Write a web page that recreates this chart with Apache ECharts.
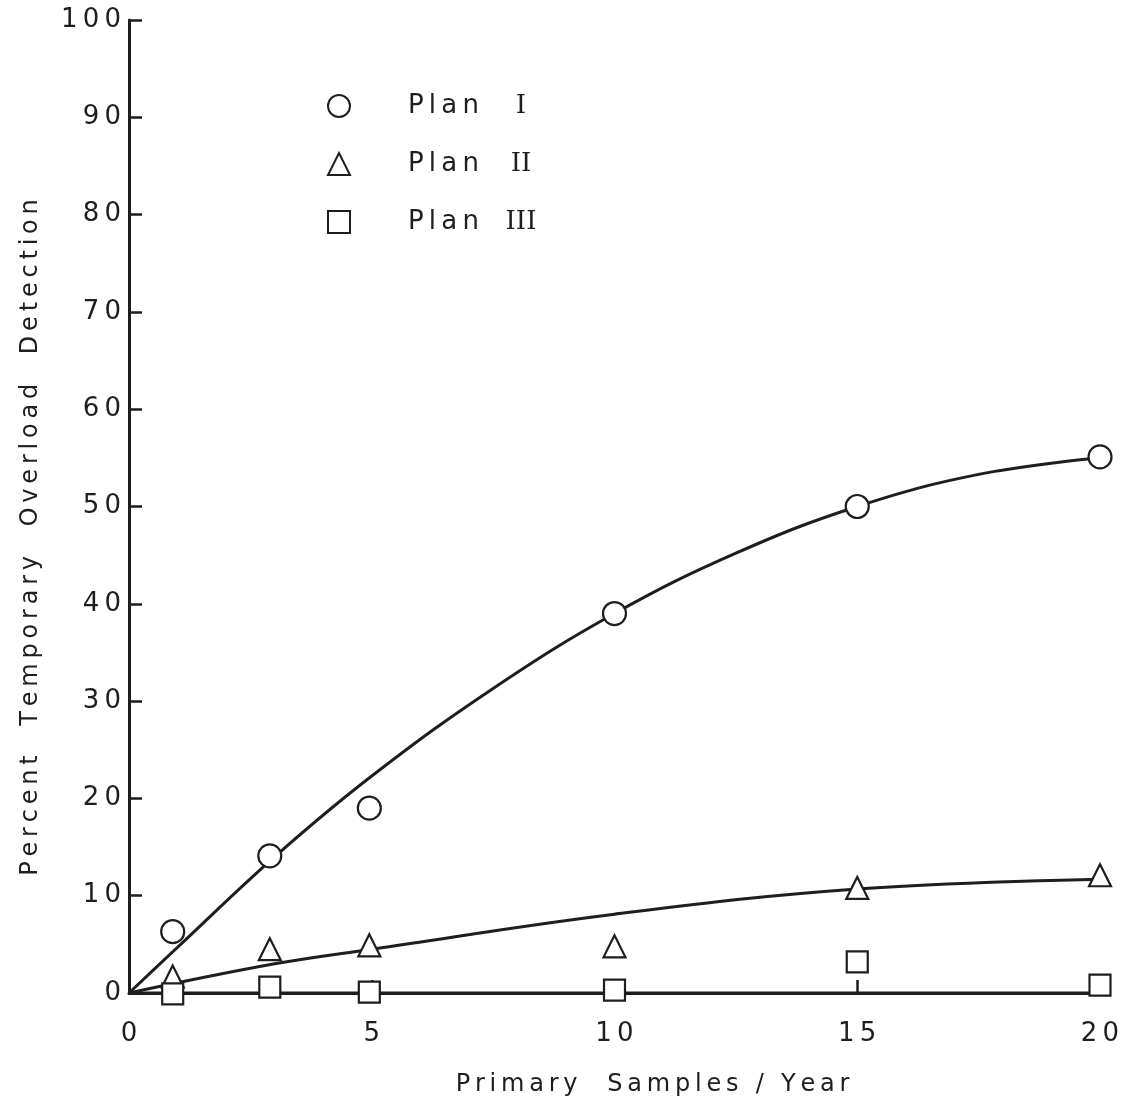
<!DOCTYPE html>
<html>
<head>
<meta charset="utf-8">
<script src="https://cdn.jsdelivr.net/npm/echarts@6/dist/echarts.min.js"></script>
<style>
  html, body { margin: 0; padding: 0; background: #fff; }
  #chart { width: 1134px; height: 1108px; }
</style>
</head>
<body>
<div id="chart"></div>
<script>
// 数据
var planNames = ['Plan I', 'Plan II', 'Plan III'];
var numerals = ['I', 'II', 'III'];
var xTicks = [0, 5, 10, 15, 20];
var yTicks = [0, 10, 20, 30, 40, 50, 60, 70, 80, 90, 100];

// 测点 [x, y]
var plan1Points = [[0.9, 6.3], [2.9, 14.1], [4.95, 19.0], [10, 39.0], [15, 50.0], [20, 55.1]];
var plan2Points = [[0.9, 1.7], [2.9, 4.5], [4.95, 4.9], [10, 4.8], [15, 10.8], [20, 12.1]];
var plan3Points = [[0.9, -0.1], [2.9, 0.6], [4.95, 0.1], [10, 0.3], [15, 3.2], [20, 0.8]];

// 拟合曲线
var plan1Curve = [[0, 0], [1, 4.7], [3, 14.0], [5, 22.3], [7.5, 31.3], [10, 39.0], [12.5, 45.2], [15, 50.0], [17.5, 53.3], [20, 55.0]];
var plan2Curve = [[0, 0], [3, 3.0], [5, 4.5], [10, 8.1], [15, 10.7], [20, 11.7]];
var plan3Curve = [[0, 0], [20, 0]];

(function() {
  var myChart = echarts.init(document.getElementById('chart'));
  var ink = '#1e1e1e';
  var font = 'DejaVu Sans';

  // 字母间距：字符之间插入细空格
  function spaced(s) {
    return s.split('').join('\u2009');
  }

  var symbolStyle = {
    color: '#fff',
    borderColor: ink,
    borderWidth: 2.2,
    opacity: 1
  };

  function pointSeries(name, symbol, size, data) {
    return {
      name: name,
      type: 'scatter',
      symbol: symbol,
      symbolSize: size,
      data: data,
      clip: false,
      itemStyle: symbolStyle,
      emphasis: { disabled: true },
      z: 5
    };
  }

  function curveSeries(name, data) {
    return {
      name: name,
      type: 'line',
      smooth: 0.4,
      showSymbol: false,
      data: data,
      lineStyle: { color: ink, width: 3 },
      emphasis: { disabled: true },
      z: 3
    };
  }

  var option = {
    backgroundColor: '#fff',
    grid: {
      left: 129,
      right: 34,
      top: 20,
      bottom: 115
    },
    legend: {
      data: planNames,
      orient: 'vertical',
      left: 327,
      top: 93,
      padding: 0,
      itemGap: 32,
      itemWidth: 22,
      itemHeight: 22,
      formatter: function(name) {
        return '{p|' + spaced('Plan') + '}{n|' + numerals[planNames.indexOf(name)] + '}';
      },
      textStyle: {
        rich: {
          p: { fontFamily: font, fontSize: 26, color: ink, width: 92, padding: [0, 0, 0, 53] },
          n: { fontFamily: 'DejaVu Serif', fontSize: 26, color: ink, width: 42, align: 'center' }
        }
      }
    },
    xAxis: {
      type: 'value',
      min: 0,
      max: 20,
      interval: 5,
      name: spaced('Primary  Samples / Year'),
      nameLocation: 'middle',
      nameGap: 80,
      nameTextStyle: { fontFamily: font, fontSize: 24, color: ink, padding: [0, 0, 0, 76] },
      axisLine: { lineStyle: { color: ink, width: 3 } },
      axisTick: { show: true, inside: true, length: 13, lineStyle: { color: ink, width: 2.5 } },
      axisLabel: {
        fontFamily: font, fontSize: 26, color: ink, margin: 28,
        formatter: function(v) { return xTicks.indexOf(v) >= 0 ? spaced(String(v)) : ''; }
      },
      splitLine: { show: false }
    },
    yAxis: {
      type: 'value',
      min: 0,
      max: 100,
      interval: 10,
      name: spaced('Percent  Temporary  Overload  Detection'),
      nameLocation: 'middle',
      nameGap: 86,
      nameTextStyle: { fontFamily: font, fontSize: 24, color: ink, padding: [0, 62, 0, 0] },
      axisLine: { lineStyle: { color: ink, width: 3 } },
      axisTick: { show: true, inside: true, length: 13, lineStyle: { color: ink, width: 2.5 } },
      axisLabel: {
        fontFamily: font, fontSize: 26, color: ink, margin: 8,
        formatter: function(v) { return yTicks.indexOf(v) >= 0 ? spaced(String(v)) : ''; }
      },
      splitLine: { show: false }
    },
    series: [
      curveSeries('Plan I fit', plan1Curve),
      curveSeries('Plan II fit', plan2Curve),
      curveSeries('Plan III fit', plan3Curve),
      pointSeries('Plan I', 'circle', 23, plan1Points),
      pointSeries('Plan II', 'triangle', 22, plan2Points),
      pointSeries('Plan III', 'rect', 21, plan3Points)
    ]
  };

  myChart.setOption(option);
  window.addEventListener('resize', function() {
    myChart.resize();
  });
})();
</script>
</body>
</html>
